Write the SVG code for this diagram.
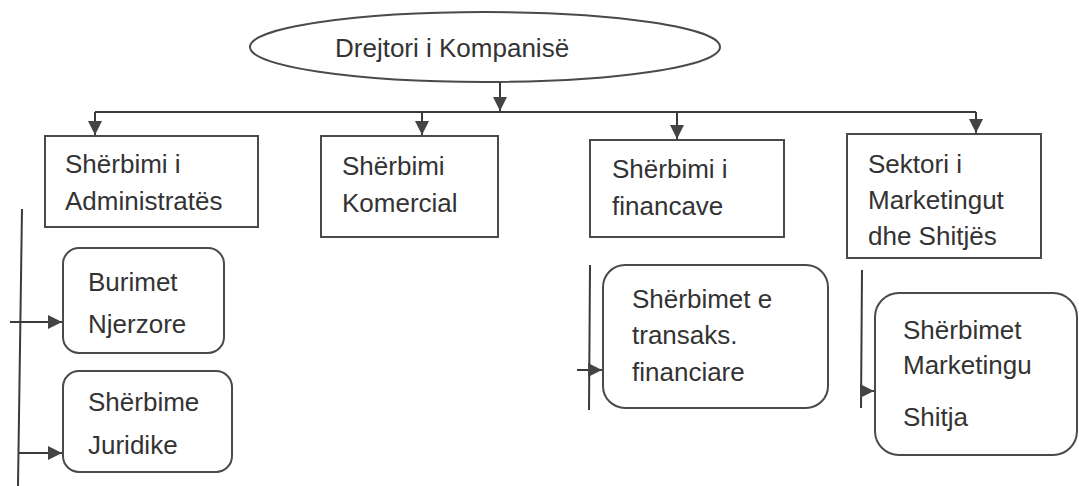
<svg xmlns="http://www.w3.org/2000/svg" width="1079" height="486" viewBox="0 0 1079 486">
<defs>
<marker id="ah" viewBox="0 0 14 14" refX="14" refY="7" markerWidth="14" markerHeight="14" markerUnits="userSpaceOnUse" orient="auto">
<path d="M0,0 L14,7 L0,14 Z" fill="#444"/>
</marker>
<style>
.box{fill:#fff;stroke:#4a4a4a;stroke-width:2}
.ln{fill:none;stroke:#3a3a3a;stroke-width:2}
.t{font-family:"Liberation Sans",Arial,sans-serif;font-size:26px;fill:#333}
</style>
</defs>
<rect width="1079" height="486" fill="#fff"/>
<g id="connectors">
<line class="ln" x1="500" y1="82" x2="500" y2="111" marker-end="url(#ah)"/>
<line class="ln" x1="95" y1="112" x2="976" y2="112"/>
<line class="ln" x1="95" y1="112" x2="95" y2="135" marker-end="url(#ah)"/>
<line class="ln" x1="422" y1="112" x2="422" y2="135" marker-end="url(#ah)"/>
<line class="ln" x1="677" y1="112" x2="677" y2="139" marker-end="url(#ah)"/>
<line class="ln" x1="976" y1="112" x2="976" y2="133" marker-end="url(#ah)"/>
<line class="ln" x1="22" y1="209" x2="18" y2="486"/>
<line class="ln" x1="10" y1="322" x2="62" y2="322" marker-end="url(#ah)"/>
<line class="ln" x1="19" y1="453" x2="62" y2="453" marker-end="url(#ah)"/>
<line class="ln" x1="590" y1="265" x2="589" y2="410"/>
<line class="ln" x1="577" y1="370" x2="602" y2="370" marker-end="url(#ah)"/>
<line class="ln" x1="862" y1="270" x2="861" y2="408"/>
<line class="ln" x1="861" y1="391" x2="874" y2="391" marker-end="url(#ah)"/>
</g>
<g id="n-director">
<ellipse class="box" cx="485" cy="47" rx="235" ry="35"/>
<text class="t" x="335" y="57">Drejtori i Kompanisë</text>
</g>
<g id="n-admin">
<rect class="box" x="45" y="136" width="213" height="91"/>
<text class="t" x="65" y="173">Shërbimi i</text>
<text class="t" x="65" y="210">Administratës</text>
</g>
<g id="n-komercial">
<rect class="box" x="321" y="136" width="177" height="101"/>
<text class="t" x="342" y="175">Shërbimi</text>
<text class="t" x="342" y="212">Komercial</text>
</g>
<g id="n-financave">
<rect class="box" x="590" y="140" width="194" height="97"/>
<text class="t" x="612" y="178">Shërbimi i</text>
<text class="t" x="612" y="215">financave</text>
</g>
<g id="n-marketing">
<rect class="box" x="847" y="134" width="194" height="124"/>
<text class="t" x="868" y="173">Sektori i</text>
<text class="t" x="868" y="209">Marketingut</text>
<text class="t" x="868" y="245">dhe Shitjës</text>
</g>
<g id="n-burimet">
<rect class="box" x="63" y="248" width="161" height="105" rx="16"/>
<text class="t" x="88" y="291">Burimet</text>
<text class="t" x="88" y="333">Njerzore</text>
</g>
<g id="n-juridike">
<rect class="box" x="63" y="371" width="169" height="101" rx="16"/>
<text class="t" x="88" y="411">Shërbime</text>
<text class="t" x="88" y="454">Juridike</text>
</g>
<g id="n-transaks">
<rect class="box" x="603" y="265" width="225" height="143" rx="22"/>
<text class="t" x="632" y="308">Shërbimet e</text>
<text class="t" x="632" y="344">transaks.</text>
<text class="t" x="632" y="381">financiare</text>
</g>
<g id="n-shitja">
<rect class="box" x="875" y="293" width="202" height="162" rx="24"/>
<text class="t" x="903" y="339">Shërbimet</text>
<text class="t" x="903" y="374">Marketingu</text>
<text class="t" x="903" y="426">Shitja</text>
</g>
</svg>
